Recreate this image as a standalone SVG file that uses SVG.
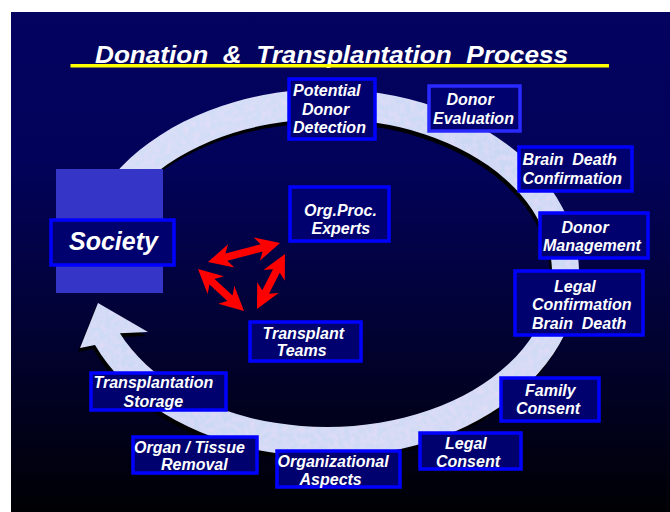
<svg xmlns="http://www.w3.org/2000/svg" width="670" height="512" viewBox="0 0 670 512">
  <defs>
    <linearGradient id="bg" x1="0" y1="0" x2="0" y2="1">
      <stop offset="0" stop-color="#030360"/>
      <stop offset="0.3" stop-color="#02025a"/>
      <stop offset="0.6" stop-color="#020238"/>
      <stop offset="1" stop-color="#000004"/>
    </linearGradient>
    <linearGradient id="ringfill" x1="0" y1="0" x2="1" y2="1">
      <stop offset="0" stop-color="#d6e0f8"/>
      <stop offset="0.5" stop-color="#cad8f4"/>
      <stop offset="1" stop-color="#d4dcf6"/>
    </linearGradient>
    <filter id="tex" x="0" y="0" width="1" height="1">
      <feTurbulence type="fractalNoise" baseFrequency="0.18" numOctaves="2" seed="4" result="n"/>
      <feColorMatrix in="n" type="matrix" values="0 0 0 0 0.9  0 0 0 0 0.72  0 0 0 0 0.95  0.9 0 0 0 -0.3" result="c"/>
      <feComposite in="c" in2="SourceGraphic" operator="atop"/>
    </filter>
  </defs>
  <style>
    .box { fill: #00006f; stroke: #0000ff; stroke-width: 3.5; }
    .t { font-family: "Liberation Sans", Arial, sans-serif; font-weight: bold; font-style: italic; font-size: 16px; fill: #ffffff; }
    .arrow { fill: #ff0000; }
  </style>

  <rect x="11" y="12" width="659" height="500" fill="url(#bg)"/>

  <g id="title">
    <text x="95" y="63" class="t" style="font-size:23px" textLength="473" lengthAdjust="spacingAndGlyphs" xml:space="preserve">Donation  &amp;  Transplantation  Process</text>
    <rect x="70.5" y="64" width="538.5" height="3.5" fill="#ffff00"/>
  </g>

  <g id="connectors">
    <path id="ring-shadow" transform="translate(-2,4)" fill="#000000" d="M83.6,225.4 A252,184 0 1 1 95,344.9 L80,348 L98,303 L148,332 L119.9,333.2 A225,154 0 1 0 109.7,233.1 Z"/>
    <path id="ring" fill="url(#ringfill)" filter="url(#tex)" d="M83.6,225.4 A252,184 0 1 1 95,344.9 L80,348 L98,303 L148,332 L119.9,333.2 A225,154 0 1 0 109.7,233.1 Z"/>
    <g id="red-arrows">
      <polygon class="arrow" transform="translate(208,262) rotate(-14.8)" points="0,0 24,-12 19,-3.8 55.5,-3.8 50.5,-12 74.5,0 50.5,12 55.5,3.8 19,3.8 24,12"/>
      <polygon class="arrow" transform="translate(198,269) rotate(42.4)" points="0,0 24,-12 19,-3.8 43.3,-3.8 38.3,-12 62.3,0 38.3,12 43.3,3.8 19,3.8 24,12"/>
      <polygon class="arrow" transform="translate(285,254) rotate(117)" points="0,0 24,-12 19,-3.8 42.7,-3.8 37.7,-12 61.7,0 37.7,12 42.7,3.8 19,3.8 24,12"/>
    </g>
  </g>

  <g id="society">
    <rect x="56" y="169" width="107" height="124" fill="#3535c8"/>
    <rect class="box" x="51" y="220" width="123" height="45"/>
    <text class="t" x="69" y="249.5" style="font-size:25px">Society</text>
  </g>

  <g id="potential-donor-detection">
    <rect class="box" x="289" y="79" width="86" height="60"/>
    <text class="t" x="293" y="96">Potential</text>
    <text class="t" x="302" y="114.5">Donor</text>
    <text class="t" x="293" y="133">Detection</text>
  </g>

  <g id="donor-evaluation">
    <rect class="box" x="429" y="86" width="91" height="45" style="stroke:#2a2aff"/>
    <text class="t" x="446.5" y="105">Donor</text>
    <text class="t" x="433" y="123.5">Evaluation</text>
  </g>

  <g id="brain-death-confirmation">
    <rect class="box" x="519" y="147" width="113" height="44"/>
    <text class="t" x="522.5" y="165" xml:space="preserve">Brain  Death</text>
    <text class="t" x="522.5" y="184">Confirmation</text>
  </g>

  <g id="donor-management">
    <rect class="box" x="540" y="213" width="108" height="45"/>
    <text class="t" x="561.5" y="233">Donor</text>
    <text class="t" x="543" y="251">Management</text>
  </g>

  <g id="legal-confirmation-brain-death">
    <rect class="box" x="515" y="271" width="128" height="64"/>
    <text class="t" x="554" y="292">Legal</text>
    <text class="t" x="532" y="310">Confirmation</text>
    <text class="t" x="532" y="328.5" xml:space="preserve">Brain  Death</text>
  </g>

  <g id="family-consent">
    <rect class="box" x="501" y="378" width="98" height="43"/>
    <text class="t" x="525" y="396">Family</text>
    <text class="t" x="516" y="413.5">Consent</text>
  </g>

  <g id="legal-consent">
    <rect class="box" x="420" y="433" width="101" height="36"/>
    <text class="t" x="445" y="448.5">Legal</text>
    <text class="t" x="436" y="466.5">Consent</text>
  </g>

  <g id="organizational-aspects">
    <rect class="box" x="277" y="451" width="123" height="36"/>
    <text class="t" x="277.5" y="467">Organizational</text>
    <text class="t" x="299.5" y="485">Aspects</text>
  </g>

  <g id="organ-tissue-removal">
    <rect class="box" x="133" y="437" width="124" height="36"/>
    <text class="t" x="134" y="453">Organ / Tissue</text>
    <text class="t" x="161" y="470">Removal</text>
  </g>

  <g id="transplantation-storage">
    <rect class="box" x="91" y="373" width="135" height="37"/>
    <text class="t" x="93.5" y="388">Transplantation</text>
    <text class="t" x="123.5" y="407">Storage</text>
  </g>

  <g id="org-proc-experts">
    <rect class="box" x="290" y="187" width="99" height="54"/>
    <text class="t" x="304" y="216">Org.Proc.</text>
    <text class="t" x="311.5" y="233.5">Experts</text>
  </g>

  <g id="transplant-teams">
    <rect class="box" x="250" y="322" width="111" height="39"/>
    <text class="t" x="262.5" y="338.5">Transplant</text>
    <text class="t" x="276.5" y="356">Teams</text>
  </g>
</svg>
